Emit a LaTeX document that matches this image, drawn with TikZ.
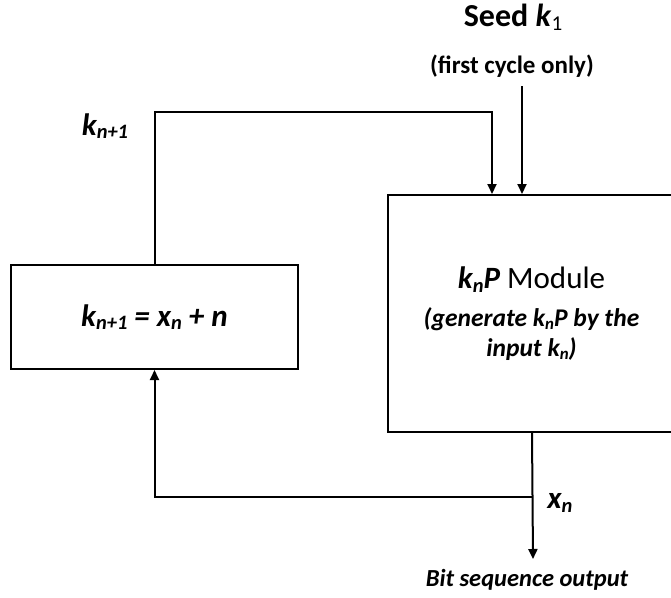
\documentclass[tikz,border=0pt]{standalone}
\usepackage{fontspec}
\setmainfont{Carlito}
\usepackage{graphicx}
\usetikzlibrary{arrows.meta}
\newcommand{\lsub}[1]{\raisebox{-0.12em}{\scalebox{0.66}{#1}}}
\newcommand{\fsz}[1]{\fontsize{#1}{#1}\selectfont}
\tikzset{
  box/.style={draw, line width=2pt, inner sep=0pt},
  wire/.style={line width=2pt},
  arr/.style={line width=2pt, -{Triangle[length=10pt,width=9pt]}},
  lbl/.style={inner sep=0pt, anchor=center}
}
\begin{document}
\begin{tikzpicture}[x=1pt,y=-1pt]
\useasboundingbox (0,0) rectangle (671,597);
% boxes
\node[box, minimum width=287pt, minimum height=104pt] (calc) at (154.5,317)
  {\fsz{31}\bfseries\itshape k\lsub{n+1} = x\lsub{n} + n};
\node[box, minimum width=287pt, minimum height=237pt, align=center] (mod) at (531.5,313.5)
  {{\fsz{31}\textbf{\textit{k\lsub{n}P}} Module}\\[14pt]
   {\fsz{25.5}\bfseries\itshape (generate k\lsub{n}P by the}\\[6pt]
   {\fsz{25.5}\bfseries\itshape input k\lsub{n})}};
% texts
\node[lbl] (seed) at (513,17) {\fsz{32}\bfseries Seed \textit{k}\lsub{\mdseries 1}};
\node[lbl] (fc) at (512,66) {\fsz{25}\bfseries (first cycle only)};
\node[lbl] (kl) at (105,126) {\fsz{31}\bfseries\itshape k\lsub{n+1}};
\node[lbl] (xl) at (560,503) {\fsz{31}\bfseries\itshape x\lsub{n}};
\node[lbl] (bso) at (527,580) {\fsz{24.5}\bfseries\itshape Bit sequence output};
% coordinates
\coordinate (topin) at ([xshift=105pt]mod.north west);
\coordinate (seedin) at ([xshift=135pt]mod.north west);
\coordinate (outp) at ([xshift=145pt]mod.south west);
\coordinate (jn) at (533,497);
\coordinate (outend) at (533,559);
% connectors
\draw[arr] (calc.north) -- ++(0,-152) -| (topin);
\draw[arr] (seedin |- 0,86) -- (seedin);
\draw[arr] (outp) -- (outend);
\draw[arr] (jn) -| (calc.south);
\end{tikzpicture}
\end{document}
